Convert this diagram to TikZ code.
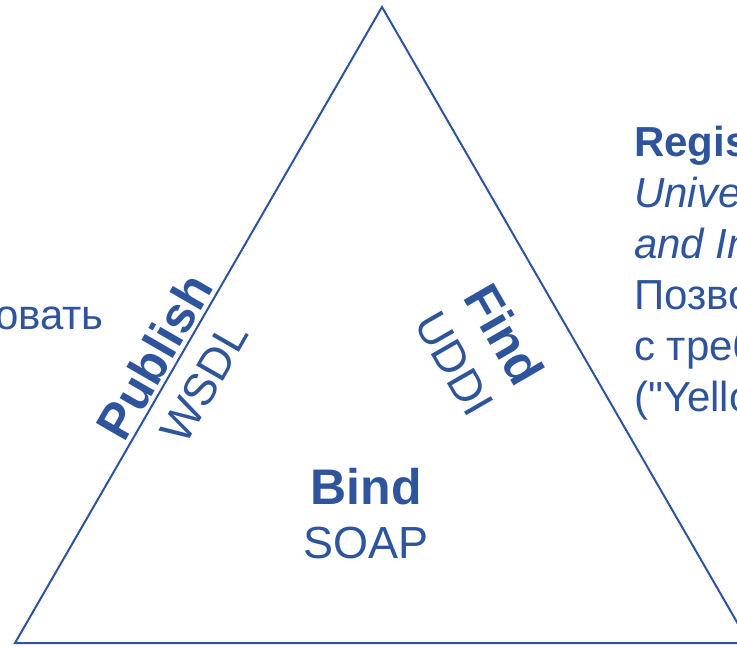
\documentclass[tikz,border=0pt]{standalone}
\usepackage{fontspec}
\setmainfont{Liberation Sans}[Ligatures=TeXOff]
\usetikzlibrary{calc}
\definecolor{wsblue}{RGB}{46,84,156}
\tikzset{
  edge/.style={draw=wsblue, line width=2pt, line join=miter},
  boldlabel/.style={text=wsblue, inner sep=0pt, font=\fontsize{50}{58}\selectfont\bfseries},
  plainlabel/.style={text=wsblue, inner sep=0pt, font=\fontsize{45}{53}\selectfont},
  sidetext/.style={text=wsblue, inner sep=0pt, align=left, font=\fontsize{42}{51}\selectfont}
}
\begin{document}
\begin{tikzpicture}[x=1pt, y=-1pt]
  \useasboundingbox (0,0) rectangle (737,647);
  \clip (0,0) rectangle (737,647);

  % corners of the triangle
  \coordinate (apex) at (382,7);
  \coordinate (bl) at (15,643);
  \coordinate (br) at (749,643);
  \draw[edge] (apex) -- (br) -- (bl) -- cycle;

  % labels along the left side
  \path (bl) -- (apex)
    node[boldlabel, sloped, pos=0.433, above=4pt] (publish) {Publish}
    node[plainlabel, sloped, pos=0.436, below=18pt] (wsdl) {WSDL};

  % labels along the right side
  \path (apex) -- (br)
    node[boldlabel, sloped, pos=0.47, below=39pt] (find) {Find}
    node[plainlabel, sloped, pos=0.47, below=100pt] (uddi) {UDDI};

  % label at the bottom
  \node[boldlabel, anchor=base] (bind) at (366,504) {Bind};
  \node[plainlabel, anchor=base] (soap) at (366,558) {SOAP};

  % text beside the triangle (anchored at the baseline of its last line)
  \node[sidetext, anchor=base east] (publishnote) at (104,330) {Опубликовать};
  \node[sidetext, anchor=base west] (registry) at (634,411)
    {\textbf{Registry}\\
     \textit{Universal Description, Discovery}\\
     \textit{and Integration}\\
     Позволяет найти сервисы\\
     с требуемыми свойствами\\
     ("Yellow pages")};
\end{tikzpicture}
\end{document}
